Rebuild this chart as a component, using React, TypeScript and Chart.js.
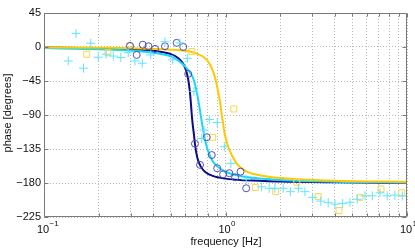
import React, { useEffect, useRef } from "react";
import { Chart, registerables } from "chart.js";

Chart.register(...registerables);

// ---- tick definitions ----
const xTickValues = [0.1, 0.2, 0.3, 0.4, 0.5, 0.6, 0.7, 0.8, 0.9, 1, 2, 3, 4, 5, 6, 7, 8, 9, 10];
const xDecadeValues = [0.1, 1, 10];
const xDecadeExponents = ["\u22121", "0", "1"];
const yTickValues = [-225, -180, -135, -90, -45, 0, 45];
const xTitle = "frequency [Hz]";
const yTitle = "phase [degrees]";

// ---- fitted curves ----
const navyCurveFreq = [0.1, 0.2, 0.3, 0.4, 0.5, 0.55, 0.58, 0.6, 0.62, 0.635, 0.645, 0.652, 0.66, 0.67, 0.68, 0.7, 0.73, 0.77, 0.85, 1, 1.3, 2, 4, 10];
const navyCurvePhase = [-0.8, -1.7, -3, -5, -9.5, -14.8, -21, -28, -40, -57, -75, -90, -103, -116, -130, -147, -158, -165, -170.5, -174.2, -176.5, -178.1, -179.1, -179.7];

const cyanCurveFreq = [0.1, 0.2, 0.3, 0.4, 0.5, 0.55, 0.6, 0.63, 0.66, 0.68, 0.7, 0.715, 0.73, 0.745, 0.76, 0.78, 0.8, 0.85, 0.9, 1, 1.2, 1.5, 2, 4, 10];
const cyanCurvePhase = [-1.4, -2.9, -4.8, -7.6, -12.4, -18, -26, -32, -40, -50, -63.7, -76.3, -90, -103.4, -115.3, -127.9, -137.2, -150.9, -158, -165.1, -170.7, -173.8, -175.9, -178.2, -179.3];

const goldCurveFreq = [0.1, 0.2, 0.3, 0.4, 0.5, 0.6, 0.65, 0.7, 0.755, 0.8, 0.84, 0.87, 0.895, 0.915, 0.935, 0.953, 0.97, 0.98, 1.0, 1.05, 1.1, 1.15, 1.22, 1.31, 1.45, 1.6, 1.8, 2.5, 4, 10];
const goldCurvePhase = [-0.5, -1, -1.5, -2.5, -3.5, -5, -6.5, -9, -13, -19, -28, -38, -50, -62, -74, -90, -101, -109, -120, -136, -146, -154, -160, -165, -168.5, -170.5, -172.5, -175, -177, -178.5];

// ---- measured points ----
const cyanPlusFreq = [0.136, 0.150, 0.165, 0.181, 0.199, 0.220, 0.241, 0.265, 0.291, 0.317, 0.348, 0.387, 0.464, 0.512, 0.561, 0.616, 0.670, 0.740, 0.762, 0.815, 0.900, 0.985, 1.07, 1.30, 1.58, 1.74, 1.87, 2.08, 2.28, 2.52, 2.74, 3.02, 3.35, 3.68, 4.01, 4.42, 4.85, 5.32, 5.87, 6.44, 7.10, 7.78, 8.58, 9.42];
const cyanPlusPhase = [-18.5, 18, -28, 5, -13.5, -9.5, -12, -14, -7.5, -18.5, -21.5, -10.5, 7, -17, 5.5, -15, -59, -121, -110, -96, -100, -132, -154, -175, -185, -187, -187, -187, -191.5, -187, -191.5, -199, -204, -206, -208, -207, -205.5, -201.5, -197, -197, -193, -197, -196, -197];

const navyCircleFreq = [0.298, 0.324, 0.350, 0.376, 0.409, 0.464, 0.538, 0.585, 0.623, 0.679, 0.724, 0.788, 0.840, 0.900, 0.970, 1.05, 1.13, 1.21, 1.30];
const navyCirclePhase = [1.5, -10.5, 3, 1, -2.5, 1, 5.5, 0, -35.7, -128, -156, -119.5, -143, -160.5, -168.5, -167, -172.5, -165, -187];

const goldSquareFreq = [0.172, 0.225, 0.295, 0.652, 0.850, 1.11, 1.46, 1.89, 2.47, 3.24, 4.22, 5.51, 7.19, 9.35];
const goldSquarePhase = [-9.7, -7.5, 1.3, -6, -119.5, -82, -186, -191.5, -179, -198, -216.5, -199, -188, -193];

const zip = (xs: number[], ys: number[]) => xs.map((x, i) => ({ x, y: ys[i] }));

const FONT = "'Liberation Sans', Arial, Helvetica, sans-serif";

const matlabAxes = {
  id: "matlabAxes",
  afterDraw(chart: any) {
    const { ctx, chartArea: a, scales } = chart;
    const xs = scales.x;
    const ys = scales.y;
    ctx.save();
    const L = Math.round(a.left) + 0.5;
    const R = Math.round(a.right) - 0.5;
    const T = Math.round(a.top) + 0.5;
    const B = Math.round(a.bottom) - 0.5;
    ctx.strokeStyle = "#7a7a7a";
    ctx.lineWidth = 1;
    ctx.setLineDash([]);
    ctx.beginPath();
    ctx.rect(L, T, R - L, B - T);
    ctx.stroke();
    // ticks
    ctx.beginPath();
    xTickValues.forEach((v) => {
      const px = Math.round(xs.getPixelForValue(v)) + 0.5;
      const len = xDecadeValues.includes(v) ? 4 : 3;
      ctx.moveTo(px, B);
      ctx.lineTo(px, B - len);
      ctx.moveTo(px, T);
      ctx.lineTo(px, T + len);
    });
    yTickValues.forEach((v) => {
      const py = Math.round(ys.getPixelForValue(v)) + 0.5;
      ctx.moveTo(L, py);
      ctx.lineTo(L + 4, py);
      ctx.moveTo(R, py);
      ctx.lineTo(R - 4, py);
    });
    ctx.stroke();
    // x decade labels
    ctx.fillStyle = "#111";
    xDecadeValues.forEach((v, i) => {
      const px = xs.getPixelForValue(v);
      ctx.font = `11px ${FONT}`;
      ctx.textAlign = "center";
      ctx.textBaseline = "alphabetic";
      const w = ctx.measureText("10").width;
      const cx = px - 1;
      ctx.fillText("10", cx, 233);
      ctx.font = `8px ${FONT}`;
      ctx.textAlign = "left";
      ctx.fillText(xDecadeExponents[i], cx + w / 2 + 0.5, 226);
    });
    // titles
    ctx.font = `11px ${FONT}`;
    ctx.textAlign = "center";
    ctx.textBaseline = "alphabetic";
    ctx.fillText(xTitle, (a.left + a.right) / 2 + 0.5, 245);
    ctx.translate(11, 113);
    ctx.rotate(-Math.PI / 2);
    ctx.fillText(yTitle, 0, 0);
    ctx.restore();
  },
};

export default function App() {
  const ref = useRef<HTMLCanvasElement>(null);
  useEffect(() => {
    const lineCommon = {
      showLine: true,
      pointRadius: 0,
      borderWidth: 2,
      cubicInterpolationMode: "monotone" as const,
      fill: false,
    };
    const chart = new Chart(ref.current!, {
      type: "scatter",
      data: {
        datasets: [
          {
            label: "cyan data",
            data: zip(cyanPlusFreq, cyanPlusPhase),
            pointStyle: "cross",
            pointRadius: 4.5,
            borderColor: "#62e3fb",
            backgroundColor: "#62e3fb",
            borderWidth: 1,
          },
          {
            label: "navy data",
            data: zip(navyCircleFreq, navyCirclePhase),
            pointStyle: "circle",
            pointRadius: 3.5,
            borderColor: "#5050b4",
            backgroundColor: "rgba(0,0,0,0)",
            borderWidth: 1,
          },
          {
            label: "gold data",
            data: zip(goldSquareFreq, goldSquarePhase),
            pointStyle: "rect",
            pointRadius: 4.2,
            borderColor: "#f8d64e",
            backgroundColor: "rgba(0,0,0,0)",
            borderWidth: 1,
          },
          { label: "gold fit", data: zip(goldCurveFreq, goldCurvePhase), borderColor: "#ffc800", ...lineCommon },
          { label: "cyan fit", data: zip(cyanCurveFreq, cyanCurvePhase), borderColor: "#18d8f8", ...lineCommon },
          { label: "navy fit", data: zip(navyCurveFreq, navyCurvePhase), borderColor: "#0c0c88", ...lineCommon },
        ] as any,
      },
      options: {
        animation: false,
        responsive: false,
        devicePixelRatio: 1,
        layout: { padding: { left: 0, right: 8, top: 13, bottom: 0 } },
        plugins: { legend: { display: false }, tooltip: { enabled: false } },
        scales: {
          x: {
            type: "logarithmic",
            min: 0.1,
            max: 10,
            afterBuildTicks: (s: any) => {
              s.ticks = xTickValues.map((v) => ({ value: v }));
            },
            afterFit: (s: any) => {
              s.height = 32;
            },
            ticks: { display: false, autoSkip: false },
            grid: { color: "#b9b9b9", lineWidth: 1, drawTicks: false },
            border: { display: false, dash: [1, 2] },
          },
          y: {
            type: "linear",
            min: -225,
            max: 45,
            afterBuildTicks: (s: any) => {
              s.ticks = yTickValues.map((v) => ({ value: v }));
            },
            afterFit: (s: any) => {
              s.width = 44;
            },
            ticks: {
              padding: 3,
              color: "#111",
              font: { family: FONT, size: 11 },
              callback: (v: any) => (Number(v) < 0 ? "\u2212" + Math.abs(Number(v)) : String(v)),
            },
            grid: { color: "#b9b9b9", lineWidth: 1, drawTicks: false },
            border: { display: false, dash: [1, 2] },
          },
        },
      },
      plugins: [matlabAxes],
    });
    return () => chart.destroy();
  }, []);
  return (
    <div style={{ position: "absolute", left: 0, top: 0, width: 415, height: 249, background: "#fff" }}>
      <canvas ref={ref} width={415} height={249} style={{ display: "block", width: 415, height: 249 }} />
    </div>
  );
}
